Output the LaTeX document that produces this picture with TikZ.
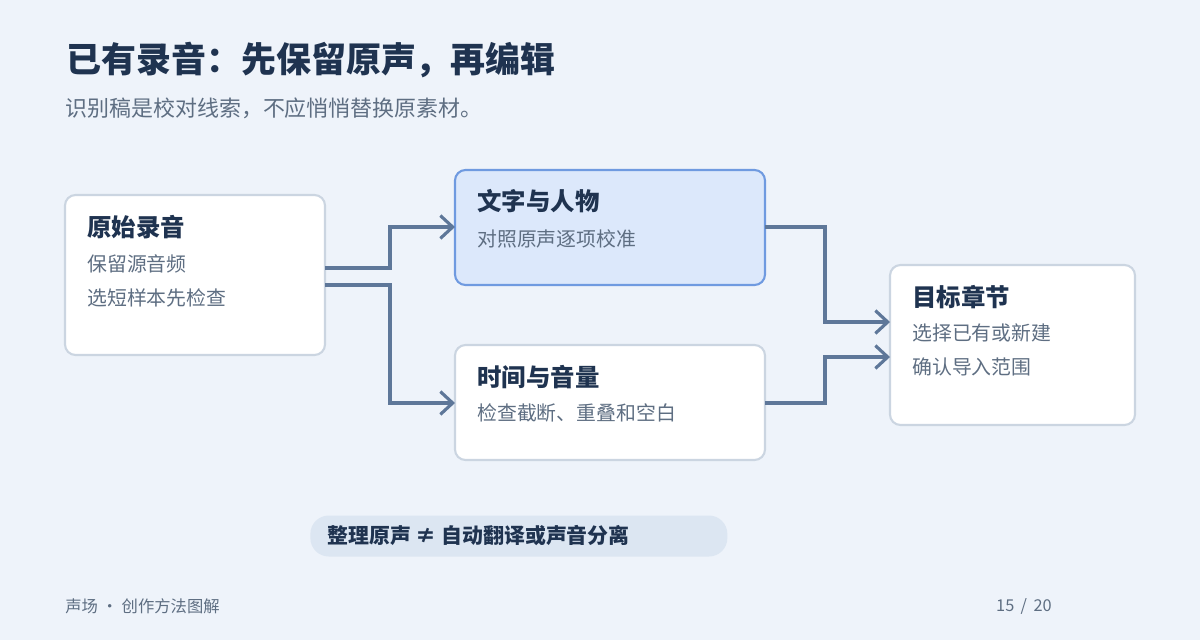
\documentclass[tikz,border=0pt]{standalone}
\usepackage{fontspec}
\setmainfont{Noto Sans CJK SC}
\usetikzlibrary{arrows.meta,positioning}
\definecolor{bg}{HTML}{EEF3FA}
\definecolor{navy}{HTML}{1F3350}
\definecolor{slate}{HTML}{5E6E82}
\definecolor{edgeg}{HTML}{CBD5E1}
\definecolor{hifill}{HTML}{DCE8FB}
\definecolor{hiedge}{HTML}{6F9AE0}
\definecolor{wire}{HTML}{5E7799}
\definecolor{pill}{HTML}{DCE6F2}
\tikzset{
  every node/.append style={inner sep=0pt},
  box/.style={draw=edgeg,line width=1.2pt,fill=white,rounded corners=6pt},
  hibox/.style={box,draw=hiedge,fill=hifill},
  head/.style={anchor=west,text=navy,font=\fontsize{13.9}{16}\selectfont\bfseries},
  body/.style={anchor=west,text=slate,font=\fontsize{11.3}{13}\selectfont},
  wire/.style={draw=wire,line width=1.8pt,-{Straight Barb[length=7pt,width=13pt,line width=1.8pt]}}
}
\begin{document}
\begin{tikzpicture}[x=0.02cm,y=-0.02cm]
  \fill[bg] (0,0) rectangle (1200,640);
  \node[anchor=west,text=navy,font=\fontsize{19.9}{22}\selectfont\bfseries] (title) at (66,60) {已有录音：先保留原声，再编辑};
  \node[anchor=west,text=slate,font=\fontsize{12.5}{14}\selectfont] (sub) at (65,108) {识别稿是校对线索，不应悄悄替换原素材。};
  % boxes
  \draw[box] (65,195) rectangle (325,355);
  \coordinate (src) at (325,268);
  \coordinate (src2) at (325,285);
  \node[head] (srch) at (87,227) {原始录音};
  \node[body] (srcb1) at (87,264) {保留源音频};
  \node[body] (srcb2) at (87,298) {选短样本先检查};
  \draw[hibox] (455,170) rectangle (765,285);
  \coordinate (txtin) at (455,227);
  \coordinate (txtout) at (765,227);
  \node[head] (txth) at (477,201) {文字与人物};
  \node[body] (txtb) at (477,239) {对照原声逐项校准};
  \draw[box] (455,345) rectangle (765,460);
  \coordinate (timein) at (455,403);
  \coordinate (timeout) at (765,403);
  \node[head] (timeh) at (477,377) {时间与音量};
  \node[body] (timeb) at (477,413) {检查截断、重叠和空白};
  \draw[box] (890,265) rectangle (1135,425);
  \coordinate (dst1) at (890,322);
  \coordinate (dst2) at (890,357);
  \node[head] (dsth) at (912,297) {目标章节};
  \node[body] (dstb1) at (912,333) {选择已有或新建};
  \node[body] (dstb2) at (912,367) {确认导入范围};
  % connectors
  \draw[wire] (src) -| (390,227) -- (txtin);
  \draw[wire] (src2) -| (390,403) -- (timein);
  \draw[wire] (txtout) -| (825,322) -- (dst1);
  \draw[wire] (timeout) -| (825,357) -- (dst2);
  % note and footer
  \node[fill=pill,rounded corners=10.5pt,minimum width=417*0.02cm,minimum height=41*0.02cm,anchor=west] (note) at (310,536) {};
  \node[anchor=west,text=navy,font=\fontsize{11.9}{14}\selectfont\bfseries] (notet) at (327,536) {整理原声 ≠ 自动翻译或声音分离};
  \node[anchor=west,text=slate,font=\fontsize{9.3}{11}\selectfont] (foot) at (65,606) {声场 · 创作方法图解};
  \node[anchor=east,text=slate,font=\fontsize{9.3}{11}\selectfont] (page) at (1052,606) {15 \,/\, 20};
\end{tikzpicture}
\end{document}
